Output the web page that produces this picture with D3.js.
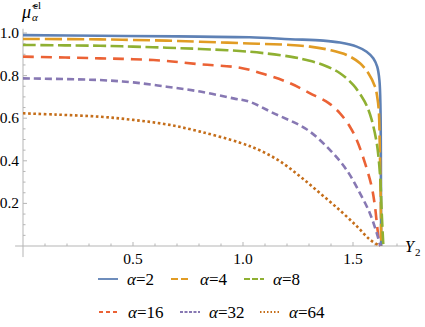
<!DOCTYPE html>
<html>
<head>
<meta charset="utf-8">
<script src="https://cdn.jsdelivr.net/npm/d3@7"></script>
<style>
  body { margin: 0; background: #fff; }
</style>
</head>
<body>
<script>
// values, x = Y2, y = mu
const alphas = [2, 4, 8, 16, 32, 64];
const xTicks = [0.5, 1.0, 1.5];
const yTicks = [0.2, 0.4, 0.6, 0.8, 1.0];

const curve2 = [[0,0.99],[0.35,0.987],[0.7,0.984],[1.03,0.98],[1.214,0.971],[1.365,0.964],[1.441,0.955],
  [1.517,0.936],[1.562,0.912],[1.592,0.881],[1.61,0.842],[1.62,0.779],[1.625,0.64],[1.627,0.3],[1.628,0]];
const curve4 = [[0,0.972],[0.35,0.97],[0.5,0.967],[0.653,0.964],[0.805,0.959],[1.03,0.951],[1.214,0.944],
  [1.305,0.936],[1.395,0.92],[1.471,0.897],[1.532,0.858],[1.57,0.811],[1.6,0.748],[1.61,0.701],[1.617,0.638],
  [1.622,0.45],[1.627,0.15],[1.629,0]];
const curve8 = [[0,0.944],[0.35,0.94],[0.5,0.936],[0.653,0.931],[0.805,0.925],[1.03,0.912],[1.214,0.889],
  [1.289,0.873],[1.365,0.85],[1.441,0.811],[1.501,0.756],[1.54,0.701],[1.562,0.66],[1.585,0.592],[1.608,0.483],
  [1.62,0.372],[1.626,0.278],[1.63,0.169],[1.635,0.061],[1.638,0]];
const curve16 = [[0,0.889],[0.35,0.881],[0.5,0.877],[0.653,0.869],[0.805,0.853],[0.986,0.837],[1.108,0.803],
  [1.214,0.764],[1.305,0.717],[1.388,0.672],[1.441,0.623],[1.486,0.56],[1.517,0.498],[1.555,0.388],[1.585,0.278],
  [1.6,0.185],[1.61,0.091],[1.62,0.013],[1.624,0]];
const curve32 = [[0,0.787],[0.35,0.779],[0.501,0.768],[0.653,0.748],[0.805,0.725],[0.956,0.693],[1.03,0.677],
  [1.138,0.624],[1.289,0.548],[1.395,0.451],[1.471,0.357],[1.532,0.247],[1.577,0.153],[1.608,0.06],[1.623,0.005],[1.625,0]];
const curve64 = [[0,0.623],[0.15,0.617],[0.35,0.607],[0.501,0.592],[0.653,0.571],[0.805,0.537],[0.986,0.485],
  [1.077,0.449],[1.168,0.398],[1.259,0.327],[1.35,0.248],[1.441,0.167],[1.517,0.093],[1.577,0.03],[1.623,0]];

const colors = ["#5e81b5", "#e19c24", "#8fb032", "#eb6235", "#8778b3", "#c56e1a"];
const dashes = [null, "17,5", "13,4.5", "11,7", "7,4", "2.6,2.6"];
const legendDashes = [null, "7,3", "6,2", "4,3", "3,1.5", "1.5,2"];

const series = alphas.map(function(a, i) {
  return { alpha: a, values: [curve2, curve4, curve8, curve16, curve32, curve64][i] };
});

const width = 425, height = 327;
const svg = d3.select("body").append("svg")
  .attr("width", width)
  .attr("height", height);

// every text gets the serif face
function label(sel, size) {
  return sel.style("font-family", '"Liberation Serif"').style("font-size", size + "px").style("fill", "#000");
}

const x = d3.scaleLinear().domain([0, 1.75]).range([23, 408]);
const y = d3.scaleLinear().domain([0, 1]).range([246, 33]);

const axisColor = "#b5b5b5";

// x axis
const gx = svg.append("g");
gx.append("line")
  .attr("x1", x(-0.036)).attr("x2", x(1.745))
  .attr("y1", y(0)).attr("y2", y(0))
  .attr("stroke", axisColor);
gx.selectAll("line.minor")
  .data(d3.range(1, 18).map(function(d) { return d / 10; }))
  .enter().append("line")
  .attr("x1", function(d) { return x(d); })
  .attr("x2", function(d) { return x(d); })
  .attr("y1", y(0))
  .attr("y2", function(d) { return y(0) - (Math.abs(d * 2 - Math.round(d * 2)) < 1e-6 ? 4 : 2.5); })
  .attr("stroke", axisColor);
gx.selectAll("text")
  .data(xTicks)
  .enter().append("text")
  .call(label, 15.5)
  .attr("x", function(d) { return x(d); })
  .attr("y", 264)
  .attr("text-anchor", "middle")
  .text(function(d) { return d3.format(".1f")(d); });

// y axis
const gy = svg.append("g");
gy.append("line")
  .attr("x1", x(0)).attr("x2", x(0))
  .attr("y1", y(-0.052)).attr("y2", y(1.02))
  .attr("stroke", axisColor);
gy.selectAll("line.minor")
  .data(d3.range(1, 21).map(function(d) { return d / 20; }))
  .enter().append("line")
  .attr("x1", x(0))
  .attr("x2", function(d) { return x(0) + (Math.abs(d * 5 - Math.round(d * 5)) < 1e-6 ? 4 : 2.5); })
  .attr("y1", function(d) { return y(d); })
  .attr("y2", function(d) { return y(d); })
  .attr("stroke", axisColor);
gy.selectAll("text")
  .data(yTicks)
  .enter().append("text")
  .call(label, 15.5)
  .attr("x", 19)
  .attr("y", function(d) { return y(d) + 5; })
  .attr("text-anchor", "end")
  .text(function(d) { return d3.format(".1f")(d); });

// axis labels
svg.append("text").call(label, 18)
  .attr("x", 22).attr("y", 18)
  .style("font-style", "italic")
  .text("\u03bc\u0303");
svg.append("text").call(label, 11)
  .attr("x", 33).attr("y", 9)
  .text("cl");
svg.append("text").call(label, 11)
  .attr("x", 32).attr("y", 21)
  .style("font-style", "italic")
  .text("\u03b1");

svg.append("text").call(label, 16)
  .attr("x", 405).attr("y", 252)
  .style("font-style", "italic")
  .text("Y");
svg.append("text").call(label, 11)
  .attr("x", 415).attr("y", 256)
  .text("2");

// curves
const line = d3.line()
  .curve(d3.curveCatmullRom.alpha(0.5))
  .x(function(d) { return x(d[0]); })
  .y(function(d) { return y(d[1]); });

svg.append("g").selectAll("path")
  .data(series)
  .enter().append("path")
  .attr("d", function(d) { return line(d.values); })
  .attr("fill", "none")
  .attr("stroke", function(d, i) { return colors[i]; })
  .attr("stroke-width", 2.6)
  .attr("stroke-dasharray", function(d, i) { return dashes[i]; });

// legend
const legendPos = [[98, 279], [171, 279], [244, 279], [99, 312], [180, 312], [260, 312]];
const lg = svg.append("g").selectAll("g")
  .data(series)
  .enter().append("g")
  .attr("transform", function(d, i) { return "translate(" + legendPos[i][0] + "," + legendPos[i][1] + ")"; });
lg.append("line")
  .attr("x1", 0).attr("x2", 20)
  .attr("stroke", function(d, i) { return colors[i]; })
  .attr("stroke-width", 1.8)
  .attr("stroke-dasharray", function(d, i) { return legendDashes[i]; });
const lt = lg.append("text").call(label, 17)
  .attr("x", 29)
  .attr("y", 5.5);
lt.append("tspan").style("font-style", "italic").text("\u03b1");
lt.append("tspan").text(function(d) { return "=" + d.alpha; });
</script>
</body>
</html>
